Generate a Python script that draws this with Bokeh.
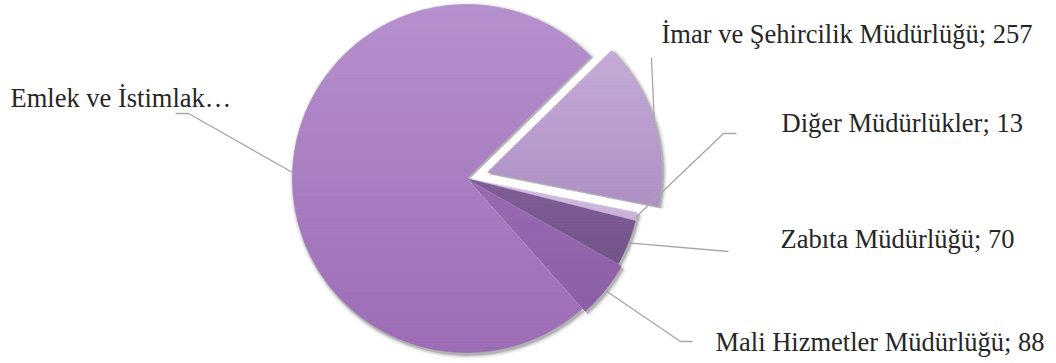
import math
from bokeh.plotting import figure
from bokeh.models import Range1d
from bokeh.core.properties import value
from bokeh.embed import file_html
from bokeh.resources import INLINE

# ---- data ----
categories = ["İmar ve Şehircilik Müdürlüğü", "Diğer Müdürlükler", "Zabıta Müdürlüğü",
              "Mali Hizmetler Müdürlüğü", "Emlek ve İstimlak Müdürlüğü"]
values = [257, 13, 70, 88, 1230]
display_labels = ["İmar ve Şehircilik Müdürlüğü; 257", "Diğer Müdürlükler; 13",
                  "Zabıta Müdürlüğü; 70", "Mali Hizmetler Müdürlüğü; 88", "Emlek ve İstimlak…"]
colors_top = ["#c6acd9", "#d4c0e2", "#7f5d97", "#9a6bb4", "#b690ce"]
colors_bottom = ["#ae90c5", "#c8b1d9", "#73528a", "#8c5fa6", "#9c6bb5"]

# ---- layout (pixels, y measured from top) ----
W, H = 1056, 363
CX, CY = 466, 178
R = 174
START_DEG = 44.5
explode = [22, 0, 0, 4, 0]
label_pos = [(661, 33), (781, 122), (780, 238), (715, 341), (10, 97)]
elbows = [(651, 57), (723, 133), (728, 251), (680, 341), (188, 113)]
ends = [(651, 57), (736, 133), (728, 251), (692, 341), (175, 113)]
BAND = 3.0

def fy(y):
    return H - y

def hex2rgb(h):
    return tuple(int(h[i:i + 2], 16) for i in (1, 3, 5))

def mix(c0, c1, t):
    a, b = hex2rgb(c0), hex2rgb(c1)
    return "#%02x%02x%02x" % tuple(int(round(a[k] + (b[k] - a[k]) * t)) for k in range(3))

def clip(poly, yv, keep_above):
    out = []
    n = len(poly)
    for k in range(n):
        p0, p1 = poly[k - 1], poly[k]
        in0 = (p0[1] >= yv) if keep_above else (p0[1] <= yv)
        in1 = (p1[1] >= yv) if keep_above else (p1[1] <= yv)
        if in1:
            if not in0:
                t = (yv - p0[1]) / (p1[1] - p0[1])
                out.append((p0[0] + t * (p1[0] - p0[0]), yv))
            out.append(p1)
        elif in0:
            t = (yv - p0[1]) / (p1[1] - p0[1])
            out.append((p0[0] + t * (p1[0] - p0[0]), yv))
    return out

p = figure(width=W, height=H, x_range=Range1d(0, W), y_range=Range1d(0, H),
           output_backend="svg", toolbar_location=None, min_border=0)
p.axis.visible = False
p.grid.visible = False
p.outline_line_color = None
p.background_fill_color = "white"

total = sum(values)
cum = 0.0
geo = []
for i, v in enumerate(values):
    a0 = math.radians(START_DEG - 360.0 * cum / total)
    a1 = math.radians(START_DEG - 360.0 * (cum + v) / total)
    mid = (a0 + a1) / 2
    cx = CX + explode[i] * math.cos(mid)
    cy = fy(CY) + explode[i] * math.sin(mid)
    geo.append((cx, cy, a0, a1, mid))
    cum += v

# shadows
for i, (cx, cy, a0, a1, mid) in enumerate(geo):
    for dr, al in [(4, 0.10), (2.5, 0.18), (1.2, 0.35)]:
        p.wedge(x=cx + 1.5, y=cy - 2, radius=R + dr, radius_units="screen",
                start_angle=a0, end_angle=a1, direction="clock",
                fill_color="#6e6e6e", fill_alpha=al, line_color=None)

# slices with vertical gradient (horizontal bands)
bx, by, bc = [], [], []
for i, (cx, cy, a0, a1, mid) in enumerate(geo):
    nseg = max(8, int(abs(a0 - a1) / math.radians(1.0)))
    poly = [(cx, cy)]
    for k in range(nseg + 1):
        a = a0 + (a1 - a0) * k / nseg
        poly.append((cx + R * math.cos(a), cy + R * math.sin(a)))
    ymin = min(q[1] for q in poly)
    ymax = max(q[1] for q in poly)
    y = ymax
    while y > ymin:
        ylo = max(ymin, y - BAND)
        piece = clip(clip(poly, ylo, True), y, False)
        if len(piece) >= 3:
            t = (ymax - (y + ylo) / 2) / (ymax - ymin)
            bx.append([q[0] for q in piece])
            by.append([q[1] for q in piece])
            bc.append(mix(colors_top[i], colors_bottom[i], t))
        y = ylo
p.patches(xs=bx, ys=by, fill_color=bc, line_color=bc, line_width=0.6)

# leader lines
for i, (cx, cy, a0, a1, mid) in enumerate(geo):
    sx = cx + R * math.cos(mid)
    sy = cy + R * math.sin(mid)
    xs = [sx, elbows[i][0], ends[i][0]]
    ys = [sy, fy(elbows[i][1]), fy(ends[i][1])]
    p.line(xs, ys, line_color="#a6a6a6", line_width=1.3)

# labels
p.text(x=[lp[0] for lp in label_pos], y=[fy(lp[1]) for lp in label_pos],
       text=display_labels, text_font=value("Liberation Serif"),
       text_font_size="26.5px", text_color="#262626",
       text_align="left", text_baseline="middle")

open("out.html", "w").write(file_html(p, INLINE))
